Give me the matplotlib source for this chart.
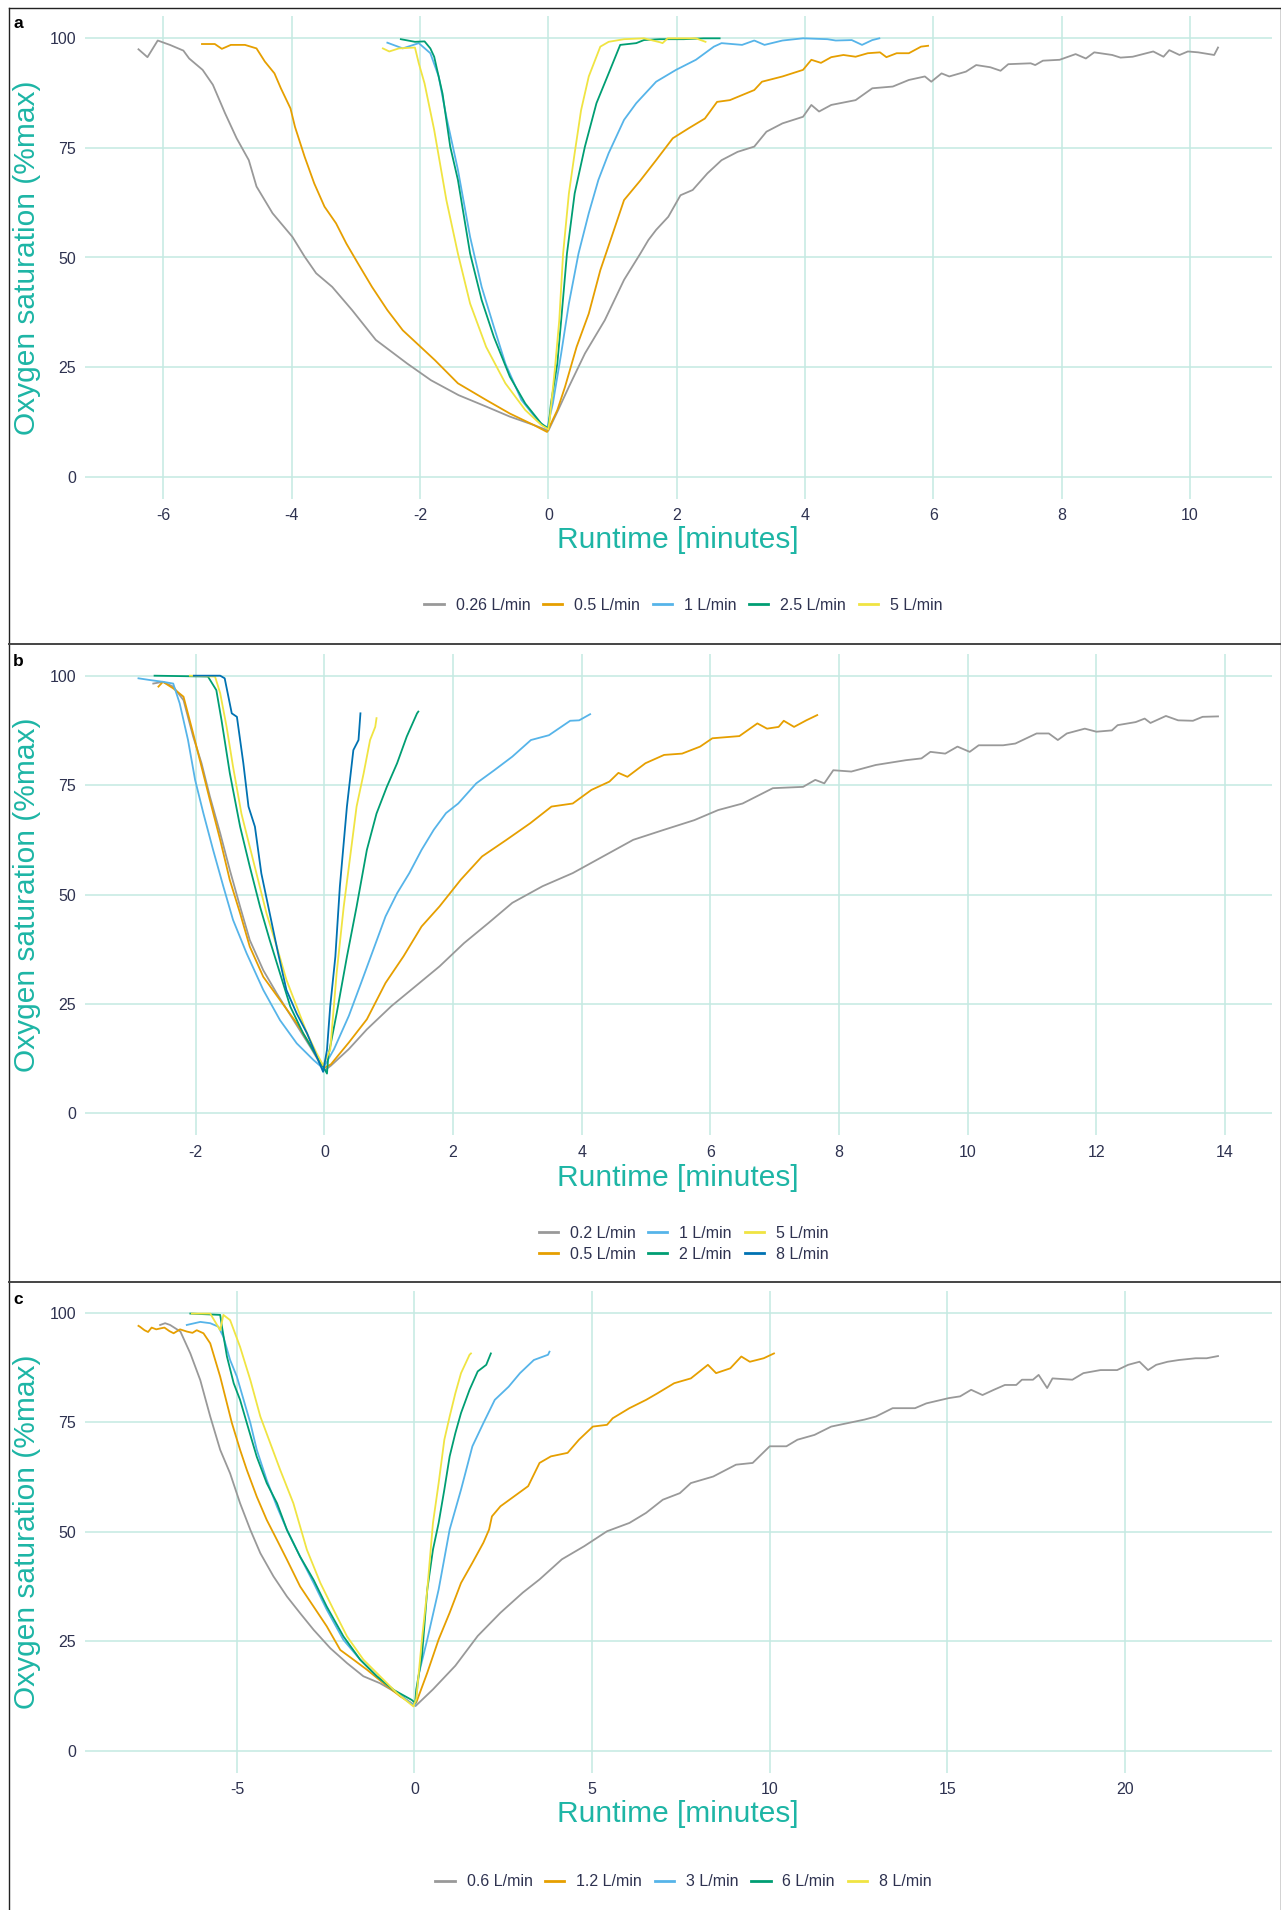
import matplotlib
matplotlib.use("Agg")
import matplotlib.pyplot as plt
from matplotlib.lines import Line2D

plt.rcParams['font.family'] = ['Liberation Sans', 'DejaVu Sans']
plt.rcParams['axes.unicode_minus'] = False

# ---------------- Colours ----------------
C_GRAY, C_ORANGE, C_SKY, C_GREEN, C_YELLOW, C_BLUE = "#999999", "#E69F00", "#56B4E9", "#009E73", "#F0E442", "#0072B2"

# ---------------- Panel a ----------------
a_labels = ["0.26 L/min", "0.5 L/min", "1 L/min", "2.5 L/min", "5 L/min"]
a_xticks = [-6, -4, -2, 0, 2, 4, 6, 8, 10]

a_026_x = [-6.39, -6.25, -6.09, -5.90, -5.69, -5.60, -5.39, -5.23, -5.04, -4.86, -4.67, -4.55, -4.30, -3.99, -3.80,
           -3.62, -3.37, -3.06, -2.69, -2.20, -1.83, -1.40, -0.97, -0.60, -0.23, 0.00,
           0.14, 0.32, 0.57, 0.88, 1.18, 1.43, 1.56, 1.68, 1.87, 2.06, 2.25, 2.48, 2.70, 2.95, 3.21, 3.40, 3.65, 3.97,
           4.10, 4.22, 4.41, 4.79, 5.05, 5.37, 5.62, 5.87, 5.97, 6.13, 6.25, 6.51, 6.67, 6.89, 7.05, 7.17, 7.52, 7.59,
           7.71, 7.97, 8.22, 8.38, 8.51, 8.79, 8.92, 9.11, 9.43, 9.59, 9.68, 9.84, 9.97, 10.13, 10.38, 10.44]
a_026_y = [97.5, 95.7, 99.5, 98.5, 97.2, 95.4, 92.8, 89.4, 82.9, 77.2, 72.2, 66.2, 60.1, 54.7, 50.2,
           46.4, 43.3, 38.0, 31.2, 25.8, 22.0, 18.6, 16.0, 13.7, 11.8, 10.5,
           14.8, 20.5, 28.1, 35.7, 44.9, 50.8, 54.0, 56.3, 59.3, 64.2, 65.4, 69.2, 72.2, 74.1, 75.3, 78.7, 80.6, 82.1,
           84.8, 83.3, 84.8, 85.9, 88.6, 89.0, 90.5, 91.3, 90.1, 92.0, 91.3, 92.4, 93.9, 93.4, 92.6, 94.1, 94.3, 93.9,
           94.9, 95.1, 96.4, 95.4, 96.8, 96.2, 95.6, 95.8, 97.0, 95.8, 97.3, 96.2, 97.0, 96.8, 96.2, 97.9]

a_05_x = [-5.40, -5.20, -5.09, -4.95, -4.73, -4.55, -4.42, -4.27, -4.17, -4.02, -3.95, -3.80, -3.65, -3.49, -3.31,
          -3.15, -2.97, -2.75, -2.51, -2.27, -2.02, -1.77, -1.41, -0.97, -0.60, -0.23, -0.02,
          0.14, 0.26, 0.44, 0.63, 0.81, 0.97, 1.18, 1.43, 1.68, 1.94, 2.19, 2.44, 2.63, 2.83, 3.21, 3.33, 3.65, 3.97,
          4.10, 4.25, 4.41, 4.60, 4.79, 4.98, 5.17, 5.27, 5.43, 5.62, 5.81, 5.92]
a_05_y = [98.7, 98.7, 97.6, 98.5, 98.5, 97.7, 94.7, 92.0, 88.6, 84.0, 79.8, 73.0, 66.9, 61.6, 57.8,
          53.2, 48.7, 43.3, 38.0, 33.4, 30.0, 26.6, 21.3, 17.5, 14.4, 11.8, 10.2,
          15.2, 20.5, 29.6, 37.2, 47.1, 54.0, 63.1, 67.5, 72.2, 77.2, 79.5, 81.7, 85.5, 85.9, 88.2, 90.1, 91.3, 92.8,
          95.1, 94.4, 95.7, 96.2, 95.8, 96.6, 96.8, 95.7, 96.6, 96.6, 98.1, 98.3]

a_1_x = [-2.51, -2.27, -2.02, -1.84, -1.71, -1.59, -1.41, -1.22, -1.04, -0.85, -0.67, -0.42, -0.17, -0.02,
         0.07, 0.20, 0.32, 0.47, 0.63, 0.78, 0.94, 1.18, 1.37, 1.68, 1.99, 2.30, 2.58, 2.70, 3.02, 3.21, 3.37, 3.65,
         3.97, 4.35, 4.48, 4.73, 4.89, 5.05, 5.16]
a_1_y = [99.0, 97.7, 98.9, 96.6, 91.3, 82.1, 70.0, 54.7, 43.3, 34.2, 25.8, 17.5, 12.9, 11.0,
         16.7, 28.1, 39.5, 50.9, 60.1, 67.7, 73.8, 81.4, 85.2, 90.1, 92.8, 95.1, 98.1, 98.9, 98.5, 99.5, 98.5, 99.5,
         100.0, 99.8, 99.5, 99.6, 98.5, 99.6, 100.0]

a_25_x = [-2.30, -2.08, -1.93, -1.84, -1.78, -1.65, -1.53, -1.41, -1.22, -1.04, -0.85, -0.60, -0.36, -0.11, 0.00,
          0.04, 0.14, 0.20, 0.29, 0.41, 0.57, 0.75, 0.94, 1.12, 1.37, 1.49, 1.74, 2.11, 2.42, 2.67]
a_25_y = [99.8, 99.2, 99.3, 97.7, 95.8, 87.4, 75.3, 67.7, 50.9, 40.3, 31.9, 22.8, 16.7, 12.1, 11.0,
          16.7, 25.8, 35.7, 50.9, 64.6, 75.3, 85.2, 92.0, 98.5, 98.9, 99.6, 99.8, 99.8, 100.0, 100.0]

a_5_x = [-2.58, -2.48, -2.33, -2.08, -2.02, -1.93, -1.78, -1.59, -1.41, -1.22, -0.97, -0.67, -0.36, -0.11, 0.00,
         0.02, 0.10, 0.17, 0.23, 0.32, 0.41, 0.51, 0.63, 0.81, 0.94, 1.18, 1.49, 1.74, 1.78, 1.86, 2.30, 2.45]
a_5_y = [97.7, 97.0, 97.7, 97.9, 94.3, 89.7, 79.1, 63.1, 50.9, 39.5, 29.6, 21.3, 15.2, 11.8, 10.8,
         12.9, 24.3, 35.7, 50.9, 64.6, 73.8, 83.6, 91.3, 98.1, 99.2, 99.8, 100.0, 99.1, 98.9, 100.0, 100.0, 99.2]

# ---------------- Panel b ----------------
b_labels = ["0.2 L/min", "0.5 L/min", "1 L/min", "2 L/min", "5 L/min", "8 L/min"]
b_xticks = [-2, 0, 2, 4, 6, 8, 10, 12, 14]

b_02_x = [-2.66, -2.51, -2.35, -2.19, -2.04, -1.91, -1.78, -1.62, -1.47, -1.31, -1.16, -0.95, -0.74, -0.48, -0.22,
          -0.04, 0.01, 0.10, 0.38, 0.66, 1.04, 1.42, 1.79, 2.17, 2.55, 2.92, 3.39, 3.86, 4.33, 4.80, 5.28, 5.75,
          6.12, 6.50, 6.97, 7.44, 7.63, 7.77, 7.91, 8.19, 8.57, 9.04, 9.28, 9.42, 9.65, 9.84, 10.03, 10.17, 10.55,
          10.74, 11.07, 11.26, 11.40, 11.54, 11.82, 12.00, 12.24, 12.33, 12.61, 12.75, 12.84, 13.08, 13.27, 13.50,
          13.65, 13.89]
b_02_y = [98.2, 98.6, 97.5, 94.4, 86.1, 80.0, 72.4, 64.0, 55.6, 47.2, 39.6, 32.7, 27.4, 21.3, 15.2,
          10.7, 9.9, 10.9, 14.7, 19.2, 24.5, 29.1, 33.6, 38.9, 43.5, 48.1, 51.9, 54.9, 58.7, 62.5, 64.8, 67.0,
          69.3, 70.8, 74.3, 74.6, 76.2, 75.4, 78.4, 78.1, 79.6, 80.7, 81.1, 82.6, 82.2, 83.8, 82.6, 84.1, 84.1,
          84.5, 86.8, 86.8, 85.3, 86.8, 87.9, 87.2, 87.5, 88.7, 89.4, 90.2, 89.2, 90.8, 89.8, 89.7,
          90.6, 90.7]

b_05_x = [-2.58, -2.51, -2.35, -2.19, -2.04, -1.91, -1.78, -1.62, -1.47, -1.31, -1.16, -0.95, -0.69, -0.43, -0.17,
          -0.02, 0.10, 0.38, 0.66, 0.95, 1.23, 1.51, 1.79, 2.12, 2.45, 2.83, 3.20, 3.53, 3.86, 4.15, 4.43, 4.57,
          4.71, 4.99, 5.28, 5.56, 5.84, 6.03, 6.45, 6.73, 6.88, 7.06, 7.14, 7.30, 7.49, 7.66]
b_05_y = [97.5, 98.6, 97.1, 95.2, 86.8, 79.2, 71.6, 62.5, 53.3, 45.7, 38.1, 31.2, 25.9, 20.6, 14.5,
          10.3, 11.2, 16.2, 21.5, 29.8, 35.9, 42.7, 47.3, 53.4, 58.7, 62.5, 66.3, 70.1, 70.8, 73.9, 75.8, 77.8,
          76.9, 80.0, 81.9, 82.2, 83.8, 85.7, 86.2, 89.1, 87.9, 88.3, 89.7, 88.3, 89.8, 91.0]

b_1_x = [-2.89, -2.71, -2.51, -2.35, -2.25, -2.12, -2.01, -1.88, -1.73, -1.57, -1.42, -1.21, -0.95, -0.69, -0.43,
         -0.17, -0.02, 0.15, 0.38, 0.57, 0.76, 0.95, 1.13, 1.32, 1.51, 1.70, 1.89, 2.08, 2.36, 2.64, 2.92, 3.21,
         3.49, 3.68, 3.82, 3.96, 4.13]
b_1_y = [99.4, 99.0, 98.6, 98.2, 93.7, 85.3, 76.2, 68.5, 60.2, 51.8, 44.2, 36.6, 28.2, 21.3, 16.0,
         12.2, 10.3, 14.7, 22.3, 29.8, 37.4, 45.0, 50.3, 54.9, 60.2, 64.8, 68.6, 70.8, 75.4, 78.4, 81.5, 85.3,
         86.4, 88.3, 89.7, 89.8, 91.2]

b_2_x = [-2.64, -1.81, -1.68, -1.60, -1.47, -1.31, -1.16, -1.00, -0.85, -0.69, -0.53, -0.33, -0.12, -0.02, 0.04,
         0.06, 0.19, 0.35, 0.50, 0.66, 0.81, 0.97, 1.13, 1.28, 1.44, 1.46]
b_2_y = [100.0, 99.8, 96.7, 89.9, 77.7, 65.5, 56.4, 47.2, 39.6, 32.0, 24.4, 18.3, 13.0, 10.7, 9.1,
         13.0, 22.8, 35.8, 47.2, 60.2, 68.5, 74.6, 80.0, 86.1, 91.4, 91.8]

b_5_x = [-2.09, -1.70, -1.62, -1.52, -1.42, -1.29, -1.16, -1.03, -0.90, -0.74, -0.59, -0.43, -0.27, -0.12, -0.02,
         0.09, 0.19, 0.30, 0.40, 0.50, 0.61, 0.71, 0.79, 0.81]
b_5_y = [100.0, 99.8, 96.0, 88.3, 79.2, 68.5, 60.9, 53.3, 45.7, 38.1, 30.5, 24.4, 18.3, 13.7, 11.0,
         14.5, 32.0, 47.2, 58.6, 70.1, 77.7, 85.3, 88.3, 90.3]

b_8_x = [-2.03, -1.62, -1.55, -1.44, -1.36, -1.26, -1.18, -1.08, -0.98, -0.85, -0.72, -0.59, -0.43, -0.27, -0.12,
         -0.02, 0.04, 0.09, 0.17, 0.24, 0.35, 0.45, 0.53, 0.56]
b_8_y = [100.0, 100.0, 99.4, 91.4, 90.6, 80.0, 70.1, 65.5, 54.8, 45.7, 36.6, 28.2, 22.8, 18.3, 13.0,
         9.5, 14.5, 24.4, 35.8, 51.8, 70.1, 83.0, 85.3, 91.4]

# ---------------- Panel c ----------------
c_labels = ["0.6 L/min", "1.2 L/min", "3 L/min", "6 L/min", "8 L/min"]
c_xticks = [-5, 0, 5, 10, 15, 20]

c_06_x = [-7.16, -7.02, -6.88, -6.59, -6.31, -6.03, -5.75, -5.47, -5.19, -4.91, -4.62, -4.34, -3.97, -3.59, -3.22,
          -2.84, -2.37, -1.90, -1.44, -0.97, -0.50, 0.03,
          0.52, 1.15, 1.78, 2.42, 3.05, 3.52, 4.15, 4.78, 5.42, 6.05, 6.52, 6.99, 7.47, 7.78, 8.41, 9.05, 9.52,
          10.00, 10.47, 10.78, 11.26, 11.73, 12.20, 12.67, 12.99, 13.46, 14.09, 14.41, 15.04, 15.36, 15.67, 15.99,
          16.31, 16.62, 16.94, 17.10, 17.41, 17.57, 17.81, 17.96, 18.52, 18.83, 19.31, 19.78, 20.09, 20.41, 20.65,
          20.88, 21.20, 21.52, 21.99, 22.30, 22.62]
c_06_y = [97.2, 97.6, 97.2, 95.7, 90.7, 84.6, 76.3, 68.7, 63.3, 56.5, 50.4, 45.1, 39.8, 35.2, 31.4,
          27.6, 23.4, 20.0, 17.0, 15.4, 13.2, 10.2,
          14.0, 19.4, 26.2, 31.5, 36.1, 39.1, 43.7, 46.7, 50.1, 52.0, 54.3, 57.3, 58.8, 61.1, 62.6, 65.3, 65.7,
          69.5, 69.5, 71.0, 72.1, 74.0, 74.8, 75.6, 76.3, 78.2, 78.2, 79.3, 80.5, 80.9, 82.4, 81.2,
          82.4, 83.5, 83.5, 84.7, 84.7, 85.8, 82.8, 85.0, 84.7, 86.2, 86.9, 86.9, 88.1, 88.8, 86.9,
          88.1, 88.8, 89.2, 89.6, 89.6, 90.1]

c_12_x = [-7.77, -7.73, -7.60, -7.50, -7.40, -7.27, -7.16, -7.04, -6.90, -6.78, -6.60, -6.41, -6.25, -6.13, -5.94,
          -5.75, -5.61, -5.47, -5.28, -5.14, -4.91, -4.72, -4.44, -4.16, -3.87, -3.59, -3.22, -2.84, -2.47, -2.09,
          -1.72, -1.34, -0.87, -0.40, -0.03,
          0.05, 0.36, 0.68, 0.99, 1.31, 1.63, 1.94, 2.10, 2.18, 2.42, 2.81, 3.20, 3.52, 3.84, 4.31, 4.63, 5.02,
          5.42, 5.58, 6.05, 6.52, 6.84, 7.31, 7.78, 8.26, 8.49, 8.89, 9.20, 9.44, 9.83, 10.12]
c_12_y = [97.0, 96.8, 96.0, 95.6, 96.6, 96.2, 96.4, 96.6, 95.8, 95.3, 96.2, 95.7, 95.4, 96.0, 95.3,
          93.0, 89.2, 85.4, 79.3, 74.8, 68.7, 64.1, 58.0, 52.7, 48.1, 43.6, 37.5, 32.9, 28.4, 23.0,
          20.8, 18.5, 15.4, 12.4, 10.5,
          11.0, 17.8, 25.4, 31.5, 38.3, 42.9, 47.5, 50.5, 53.5, 55.8, 58.1, 60.4, 65.7, 67.2, 68.0, 71.0, 74.0,
          74.4, 75.9, 78.2, 80.1, 81.6, 83.9, 85.0, 88.1, 86.2, 87.3, 90.0, 88.8, 89.6, 90.7]

c_3_x = [-6.41, -6.03, -5.75, -5.52, -5.38, -5.19, -5.00, -4.81, -4.62, -4.44, -4.16, -3.87, -3.59, -3.22, -2.84,
         -2.47, -2.00, -1.53, -1.06, -0.59, -0.12, 0.02,
         0.13, 0.36, 0.68, 0.99, 1.31, 1.63, 1.94, 2.26, 2.65, 2.97, 3.36, 3.76, 3.80]
c_3_y = [97.2, 97.9, 97.6, 96.8, 94.5, 89.2, 85.4, 80.1, 74.8, 68.7, 61.8, 55.7, 50.4, 44.3, 38.3,
         32.2, 25.3, 20.8, 17.0, 13.9, 10.9, 10.4,
         17.8, 25.4, 36.8, 50.5, 59.6, 69.5, 74.8, 80.1, 83.1, 86.2, 89.2, 90.4, 91.1]

c_6_x = [-6.31, -5.47, -5.42, -5.28, -5.09, -4.91, -4.72, -4.44, -4.16, -3.87, -3.59, -3.22, -2.84, -2.47, -2.00,
         -1.53, -1.06, -0.59, -0.08, 0.02,
         0.05, 0.21, 0.36, 0.52, 0.68, 0.84, 0.99, 1.15, 1.31, 1.55, 1.78, 2.02, 2.15]
c_6_y = [99.8, 99.5, 96.8, 90.0, 83.9, 80.1, 74.8, 67.1, 61.1, 56.5, 50.4, 44.3, 39.0, 32.9, 26.1,
         20.8, 17.0, 13.9, 11.6, 10.9,
         14.0, 21.6, 36.8, 45.9, 52.0, 59.6, 67.2, 72.5, 77.1, 82.4, 86.6, 88.1, 90.7]

c_8_x = [-6.27, -5.75, -5.47, -5.38, -5.19, -4.91, -4.62, -4.34, -4.06, -3.78, -3.41, -3.03, -2.65, -2.28, -1.90,
         -1.44, -0.97, -0.50, -0.03,
         0.05, 0.21, 0.36, 0.52, 0.68, 0.84, 0.99, 1.15, 1.31, 1.55, 1.59]
c_8_y = [99.8, 99.8, 96.0, 99.5, 98.3, 92.2, 84.6, 76.3, 70.2, 64.1, 56.5, 45.9, 38.3, 32.2, 26.1,
         20.8, 17.0, 13.2, 10.1,
         11.8, 25.4, 36.8, 52.0, 61.1, 71.0, 76.3, 81.6, 86.2, 90.4, 90.7]

y_ticks = [0, 25, 50, 75, 100]

panels = [
    dict(tag="a", xticks=a_xticks, labels=a_labels, ncol=5,
         series=[(a_026_x, a_026_y, C_GRAY), (a_05_x, a_05_y, C_ORANGE), (a_1_x, a_1_y, C_SKY),
                 (a_25_x, a_25_y, C_GREEN), (a_5_x, a_5_y, C_YELLOW)],
         ax_top=16.4, ax_bot=498.6, tag_y=24, xtick_y=None, xlab_y=539.5, leg_y=605),
    dict(tag="b", xticks=b_xticks, labels=b_labels, ncol=3,
         series=[(b_02_x, b_02_y, C_GRAY), (b_05_x, b_05_y, C_ORANGE), (b_1_x, b_1_y, C_SKY),
                 (b_2_x, b_2_y, C_GREEN), (b_5_x, b_5_y, C_YELLOW), (b_8_x, b_8_y, C_BLUE)],
         ax_top=653.8, ax_bot=1135.3, tag_y=661, xlab_y=1177.5, leg_y=1243.8),
    dict(tag="c", xticks=c_xticks, labels=c_labels, ncol=5,
         series=[(c_06_x, c_06_y, C_GRAY), (c_12_x, c_12_y, C_ORANGE), (c_3_x, c_3_y, C_SKY),
                 (c_6_x, c_6_y, C_GREEN), (c_8_x, c_8_y, C_YELLOW)],
         ax_top=1290.8, ax_bot=1772.6, tag_y=1299, xlab_y=1814, leg_y=1881.7),
]

W, H = 1281, 1910
fig = plt.figure(figsize=(W / 100, H / 100), dpi=100)
fig.patch.set_facecolor("white")

TEXT_C = "#2E3250"
TITLE_C = "#1DB5A5"
GRID_C = "#C4EAE2"
AX_L, AX_R = 84.5, 1272.0

for p in panels:
    ax = fig.add_axes([AX_L / W, 1 - p["ax_bot"] / H, (AX_R - AX_L) / W, (p["ax_bot"] - p["ax_top"]) / H])
    for sx, sy, col in p["series"]:
        ax.plot(sx, sy, color=col, lw=1.3, solid_joinstyle="round")
    ax.margins(x=0.05)
    ax.set_ylim(-5, 105)
    ax.set_yticks(y_ticks)
    ax.set_xticks(p["xticks"])
    ax.set_xticklabels([str(v) for v in p["xticks"]])
    ax.grid(True, color=GRID_C, lw=1.1)
    ax.set_axisbelow(True)
    for s in ax.spines.values():
        s.set_visible(False)
    ax.tick_params(length=0, labelsize=11.5, labelcolor=TEXT_C)
    ax.tick_params(axis="x", pad=7)
    ax.tick_params(axis="y", pad=6)
    # axis titles
    fig.text((AX_L + AX_R) / 2 / W, 1 - p["xlab_y"] / H, "Runtime [minutes]", color=TITLE_C,
             fontsize=21.5, ha="center", va="center")
    fig.text(27 / W, 1 - (p["ax_top"] + p["ax_bot"]) / 2 / H, "Oxygen saturation (%max)", color=TITLE_C,
             fontsize=21.5, ha="center", va="center", rotation=90)
    # panel tag
    fig.text(18 / W, 1 - p["tag_y"] / H, p["tag"], fontsize=12.5, fontweight="bold", color="black",
             ha="center", va="center")
    # legend
    handles = [Line2D([0], [0], color=c, lw=2.0) for _, _, c in p["series"]]
    leg = fig.legend(handles, p["labels"], loc="center", ncol=p["ncol"],
                     bbox_to_anchor=(683.5 / W, 1 - p["leg_y"] / H), bbox_transform=fig.transFigure,
                     frameon=False, fontsize=11.5, handlelength=1.2, handletextpad=0.75,
                     columnspacing=0.8, labelspacing=0.35, borderpad=0)
    for t in leg.get_texts():
        t.set_color(TEXT_C)

# panel frames
frame_kw = dict(transform=fig.transFigure, color="#222222", lw=1.0)
fig.add_artist(Line2D([8.5 / W, 8.5 / W], [0, 1 - 8.3 / H], **frame_kw))
fig.add_artist(Line2D([8.5 / W, 1], [1 - 8.3 / H, 1 - 8.3 / H], **frame_kw))
fig.add_artist(Line2D([1280.5 / W, 1280.5 / W], [0, 1 - 8.3 / H], **frame_kw))
fig.add_artist(Line2D([8.5 / W, 1], [1 - 644.3 / H, 1 - 644.3 / H], color="#444444", lw=1.4,
                      transform=fig.transFigure))
fig.add_artist(Line2D([8.5 / W, 1], [1 - 1281.5 / H, 1 - 1281.5 / H], color="#444444", lw=1.4,
                      transform=fig.transFigure))

fig.savefig("out.png", dpi=100, facecolor="white")
